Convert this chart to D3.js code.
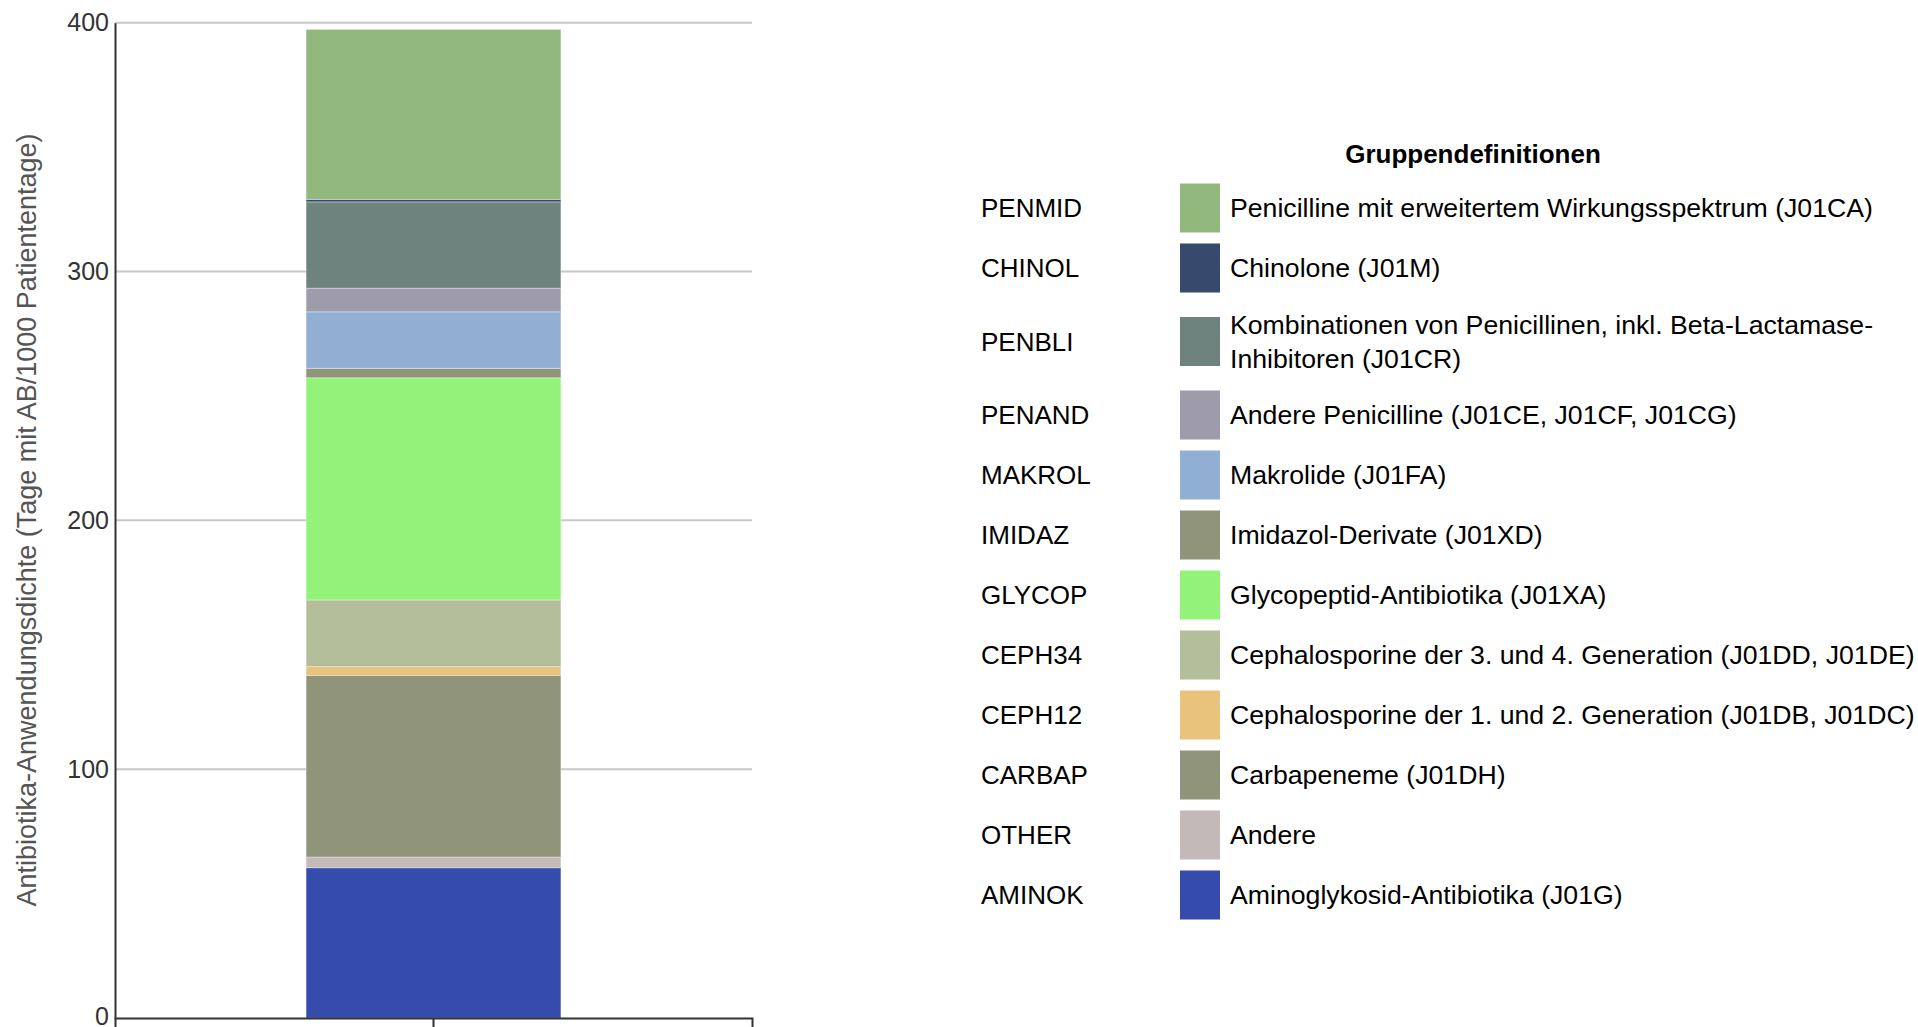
<!DOCTYPE html>
<html>
<head>
<meta charset="utf-8">
<script src="https://cdn.jsdelivr.net/npm/d3@7"></script>
<style>
  body { margin: 0; background: #fff; }
  svg { display: block; font-family: "Liberation Sans", Arial, sans-serif; }
</style>
</head>
<body>
<div class="chart"></div>
<script>

// Data (stack order bottom -> top)
const categories = ["Gesamt"];
const groups = ["AMINOK", "OTHER", "CARBAP", "CEPH12", "CEPH34", "GLYCOP", "IMIDAZ", "MAKROL", "PENAND", "PENBLI", "CHINOL", "PENMID"];
const values = [60.4, 4.3, 73.0, 3.5, 26.8, 89.3, 3.8, 22.7, 9.5, 34.7, 1.0, 68.3];
const colors = ["#364cad", "#c3b9b9", "#90957a", "#e9c27b", "#b4be9a", "#93f27a", "#90957a", "#91afd3", "#9e9caa", "#6e827e", "#374a6d", "#92b87e"];
const descriptions = [
    "Aminoglykosid-Antibiotika (J01G)",
    "Andere",
    "Carbapeneme (J01DH)",
    "Cephalosporine der 1. und 2. Generation (J01DB, J01DC)",
    "Cephalosporine der 3. und 4. Generation (J01DD, J01DE)",
    "Glycopeptid-Antibiotika (J01XA)",
    "Imidazol-Derivate (J01XD)",
    "Makrolide (J01FA)",
    "Andere Penicilline (J01CE, J01CF, J01CG)",
    "Kombinationen von Penicillinen, inkl. Beta-Lactamase-\nInhibitoren (J01CR)",
    "Chinolone (J01M)",
    "Penicilline mit erweitertem Wirkungsspektrum (J01CA)"
];
const yTicks = [0, 100, 200, 300, 400];
const yLabel = "Antibiotika-Anwendungsdichte (Tage mit AB/1000 Patiententage)";
const legendTitle = "Gruppendefinitionen";

// Layout
const W = 1918, H = 1027;
const plot = {left: 115, right: 752, top: 22.7, bottom: 1018};

const svg = d3.select(".chart").append("svg")
    .attr("width", W)
    .attr("height", H);

// Scales
const xScale = d3.scaleBand()
    .domain(categories)
    .range([plot.left, plot.right])
    .paddingInner(0)
    .paddingOuter(0.75);

const yScale = d3.scaleLinear()
    .domain([0, 400])
    .range([plot.bottom, plot.top]);

// Gridlines
svg.append("g")
    .selectAll("line")
    .data(yTicks.filter(d => d > 0))
    .join("line")
    .attr("x1", plot.left)
    .attr("x2", plot.right)
    .attr("y1", d => yScale(d))
    .attr("y2", d => yScale(d))
    .attr("stroke", "#c8c8c8")
    .attr("stroke-width", 2);

// Stacked bar
const row = {cat: categories[0]};
groups.forEach((g, i) => row[g] = values[i]);
const series = d3.stack().keys(groups)([row]);

svg.append("g")
    .selectAll("rect")
    .data(series)
    .join("rect")
    .attr("x", xScale(categories[0]))
    .attr("width", xScale.bandwidth())
    .attr("y", d => yScale(d[0][1]))
    .attr("height", d => yScale(d[0][0]) - yScale(d[0][1]))
    .attr("fill", (d, i) => colors[i])
    .attr("stroke", "rgba(255,255,255,0.35)")
    .attr("stroke-width", 1);

// Axes
const yAxis = d3.axisLeft(yScale)
    .tickValues(yTicks)
    .tickSize(0)
    .tickPadding(6);

svg.append("g")
    .attr("class", "y-axis")
    .attr("transform", `translate(${plot.left},0)`)
    .call(yAxis)
    .call(g => g.select(".domain").attr("stroke", "#333").attr("stroke-width", 2))
    .call(g => g.selectAll("text")
        .attr("font-size", 25)
        .attr("font-family", "Liberation Sans, Arial, sans-serif")
        .attr("fill", "#333"))
    .call(g => g.selectAll(".tick").filter(d => d === 0).select("text").attr("dy", "0.25em"));

const xAxis = d3.axisBottom(xScale)
    .tickSize(12)
    .tickSizeOuter(12)
    .tickFormat(() => "");

svg.append("g")
    .attr("class", "x-axis")
    .attr("transform", `translate(0,${plot.bottom})`)
    .call(xAxis)
    .call(g => g.select(".domain").attr("stroke", "#333").attr("stroke-width", 2))
    .call(g => g.selectAll(".tick line").attr("stroke", "#333").attr("stroke-width", 2));

// Y axis title
svg.append("text")
    .attr("transform", `translate(36,520) rotate(-90)`)
    .attr("text-anchor", "middle")
    .attr("font-size", 27)
    .attr("fill", "#555")
    .text(yLabel);

// Legend
const legend = svg.append("g");
legend.append("text")
    .attr("x", 1473)
    .attr("y", 163)
    .attr("text-anchor", "middle")
    .attr("font-size", 26)
    .attr("font-weight", "bold")
    .attr("fill", "#000")
    .text(legendTitle);

const lineH = 34;
let cy = 208;
const items = groups.map((g, i) => ({code: g, color: colors[i], desc: descriptions[i]})).reverse();
items.forEach((d, i) => {
    const lines = d.desc.split("\n");
    if (i > 0) {
        const prevLines = items[i - 1].desc.split("\n").length;
        cy += 60 + ((prevLines - 1) + (lines.length - 1)) * 13.5;
    }
    const gItem = legend.append("g");
    gItem.append("text")
        .attr("x", 981)
        .attr("y", cy)
        .attr("dy", "0.35em")
        .attr("font-size", 26)
        .attr("fill", "#000")
        .text(d.code);
    gItem.append("rect")
        .attr("x", 1180)
        .attr("y", cy - 24.5)
        .attr("width", 40)
        .attr("height", 49)
        .attr("fill", d.color);
    lines.forEach((ln, j) => {
        gItem.append("text")
            .attr("x", 1230)
            .attr("y", cy + (j - (lines.length - 1) / 2) * lineH)
            .attr("dy", "0.35em")
            .attr("font-size", 26.67)
            .attr("fill", "#000")
            .text(ln);
    });
});

</script>
</body>
</html>
